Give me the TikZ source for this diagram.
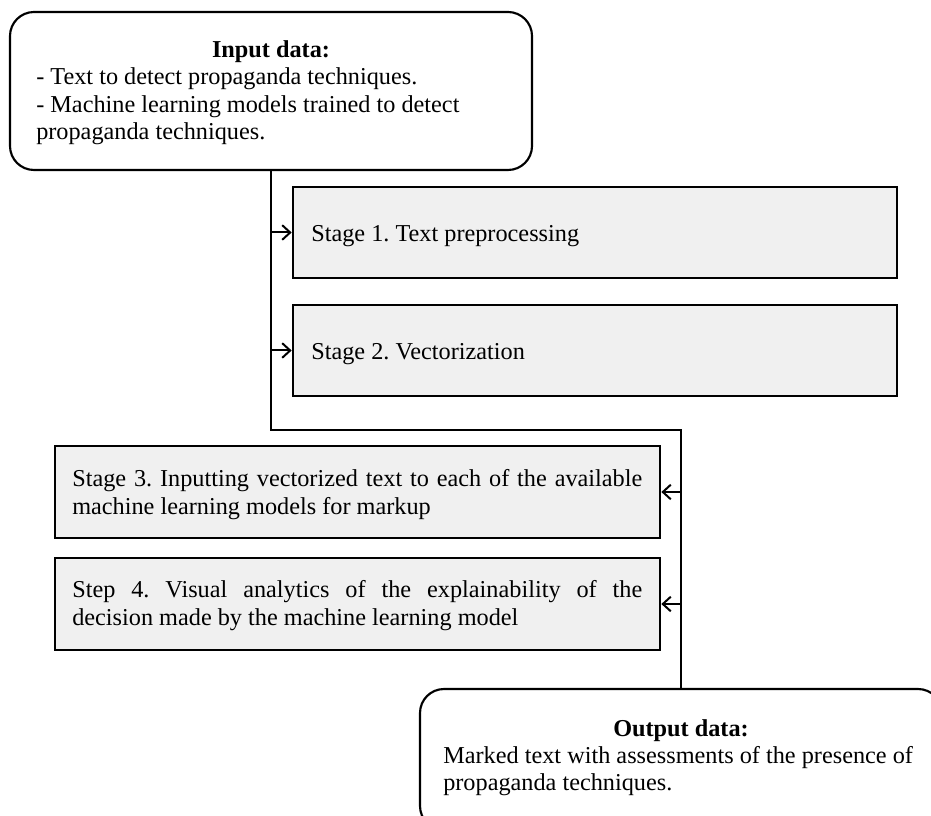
\documentclass[tikz,border=0pt]{standalone}
\usepackage{fontspec}
\setmainfont{Liberation Serif}
\usetikzlibrary{arrows.meta}
\definecolor{stagefill}{HTML}{F0F0F0}
\begin{document}
\begin{tikzpicture}[x=0.75pt,y=-0.75pt,
  font=\fontsize{18.2}{21}\selectfont\frenchspacing,
  databox/.style={draw=black, line width=1.6pt, rounded corners=18pt, fill=white,
    minimum width=391.5pt, inner sep=0pt},
  stagebox/.style={draw=black, line width=2pt, fill=stagefill, inner sep=0pt},
  txt/.style={inner sep=0pt, anchor=base west},
  ttl/.style={inner sep=0pt, anchor=base, font=\fontsize{18.2}{21}\selectfont\bfseries},
  conn/.style={line width=1.5pt},
  arr/.style={line width=1.5pt, -{Straight Barb[length=6pt,width=11pt]}}]
\useasboundingbox (0,0) rectangle (931,816);
\clip (0,0) rectangle (931,816);
\fill[white] (0,0) rectangle (931,816);

% boxes
\node[databox, minimum height=118.5pt] (in) at (271,91) {};
\node[stagebox, minimum width=453pt, minimum height=68.25pt] (s1) at (595,232.5) {};
\node[stagebox, minimum width=453pt, minimum height=68.25pt] (s2) at (595,350.5) {};
\node[stagebox, minimum width=453.75pt, minimum height=69pt] (s3) at (357.5,492) {};
\node[stagebox, minimum width=453.75pt, minimum height=69pt] (s4) at (357.5,604) {};
\node[databox, minimum height=105.75pt] (out) at (681,759.5) {};

% texts
\node[ttl] (inT) at (271,58) {Input data:};
\node[txt] (inB1) at (36,85) {- Text to detect propaganda techniques.};
\node[txt] (inB2) at (36,113) {- Machine learning models trained to detect};
\node[txt] (inB3) at (36,140) {propaganda techniques.};
\node[txt] (t1) at (311,242) {Stage 1. Text preprocessing};
\node[txt] (t2) at (311,359.5) {Stage 2. Vectorization};
\node[txt] (t3a) at (72,486.5) {\makebox[427.5pt][s]{Stage 3. Inputting vectorized text to each of the available}};
\node[txt] (t3b) at (72,514) {machine learning models for markup};
\node[txt] (t4a) at (72,597.5) {\makebox[427.5pt][s]{Step 4. Visual analytics of the explainability of the}};
\node[txt] (t4b) at (72,625.5) {decision made by the machine learning model};
\node[ttl] (outT) at (681,736) {Output data:};
\node[txt] (outB1) at (443,763) {Marked text with assessments of the presence of};
\node[txt] (outB2) at (443,790) {propaganda techniques.};

% connectors
\coordinate (k1) at (271,430);
\coordinate (k2) at (681,430);
\draw[conn] (in.south) -- (k1) -- (k2) -- (out.north);

\draw[arr] (s1.west -| in.south) -- (s1.west);
\draw[arr] (s2.west -| in.south) -- (s2.west);
\draw[arr] (s3.east -| out.north) -- (s3.east);
\draw[arr] (s4.east -| out.north) -- (s4.east);
\end{tikzpicture}
\end{document}
